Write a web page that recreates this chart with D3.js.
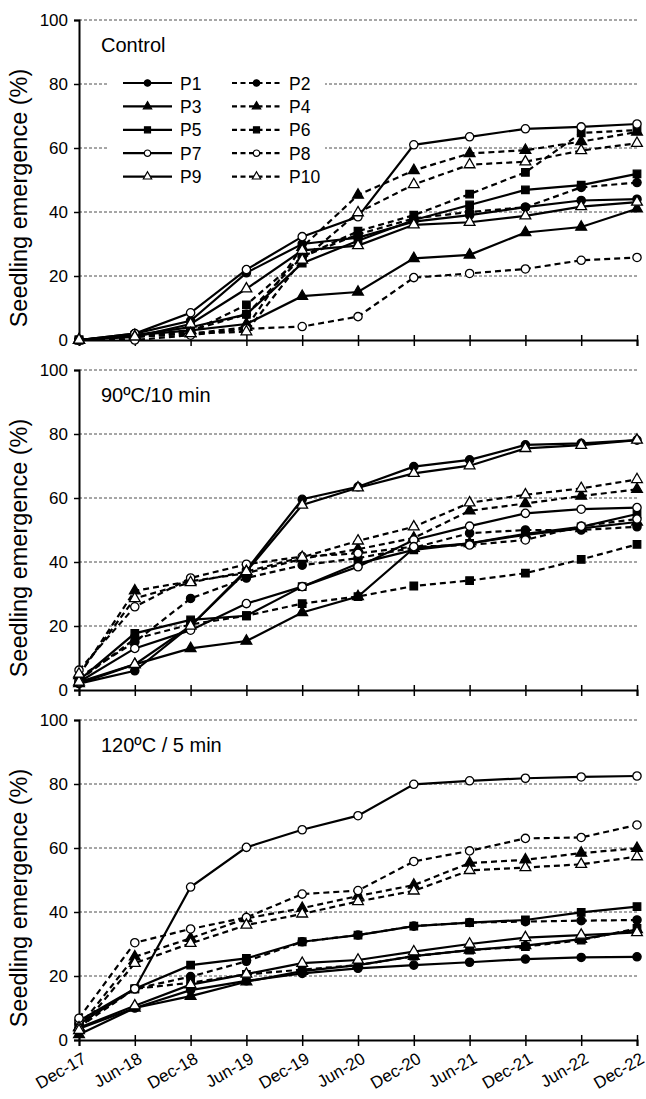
<!DOCTYPE html>
<html><head><meta charset="utf-8">
<script src="https://cdn.jsdelivr.net/npm/d3@7"></script>
<style>
body{margin:0;background:#fff}
svg{display:block}
text{font-family:"Liberation Sans",Arial,Helvetica,sans-serif;fill:#000}
</style>
</head><body>
<svg id="chart" width="646" height="1099"></svg>
<script>
// ---------- data ----------
const dates = ["Dec-17","Jun-18","Dec-18","Jun-19","Dec-19","Jun-20","Dec-20","Jun-21","Dec-21","Jun-22","Dec-22"];
const seriesNames = ["P1","P2","P3","P4","P5","P6","P7","P8","P9","P10"];
const panelTitles = ["Control","90ºC/10 min","120ºC / 5 min"];
const yTicks = [0,20,40,60,80,100];

const controlValues = [
  [0, 2, 6, 21, 30, 32, 37, 39, 41.5, 43.6, 44],
  [0, 1.5, 3, 8, 26, 33, 38, 40, 41.5, 47.7, 49.2],
  [0, 1.5, 3, 5, 13.7, 15, 25.5, 26.6, 33.6, 35.3, 41],
  [0, 1, 2, 4, 29, 45.3, 53, 58.3, 59.3, 62, 65],
  [0, 1.5, 4, 8, 24, 31, 37.5, 42.2, 46.9, 48.4, 51.9],
  [0, 1, 2.5, 11, 26, 34, 39, 45.6, 52.4, 64.7, 65.6],
  [0, 2, 8.5, 22, 32.3, 38.5, 61, 63.5, 66, 66.6, 67.5],
  [0, 0, 1.5, 3.5, 4.2, 7.3, 19.5, 20.8, 22.2, 24.9, 25.8],
  [0, 1, 5, 16, 28, 29.5, 36, 36.8, 38.8, 41.7, 43.1],
  [0, 1, 2, 2.6, 25, 39.8, 48.6, 54.8, 55.7, 59.2, 61.5]
];
const heat90Values = [
  [2, 6, 20, 37.5, 59.6, 63.5, 69.8, 71.9, 76.6, 77.1, 78.1],
  [4, 15, 28.6, 35, 39, 41.2, 44.5, 49, 50, 50, 51],
  [2, 8, 13, 15.3, 24.2, 29.2, 44.3, 45.8, 48.5, 50.5, 52.5],
  [4.5, 31, 34, 36.5, 41, 44, 47.5, 56, 58.3, 60.6, 62.7],
  [3, 17.7, 21.9, 23.2, 32.3, 39.5, 43.8, 45.8, 48.8, 51, 55],
  [3, 16, 20.5, 23.2, 27, 29.2, 32.5, 34.2, 36.5, 40.8, 45.5],
  [2.5, 13, 18.7, 27, 32.3, 38.5, 46.9, 51.2, 55.2, 56.5, 57],
  [6.2, 26, 35, 39.3, 41.7, 42.7, 44.8, 45.3, 46.9, 51.2, 53.4],
  [2.5, 8, 20, 37, 57.8, 63.2, 67.7, 70.1, 75.5, 76.5, 78.1],
  [5, 28.6, 33.6, 37, 41.5, 46.6, 51, 58.5, 61, 63, 65.8]
];
const heat120Values = [
  [3.5, 10, 15.6, 18.5, 20.8, 22.4, 23.4, 24.3, 25.3, 25.8, 26],
  [5, 16, 19.8, 24.6, 30.7, 32.8, 35.6, 36.7, 37, 37.3, 37.5],
  [1.7, 10, 13.7, 18.2, 21.5, 23.4, 26.2, 28.1, 29.5, 31.5, 34.5],
  [4, 26, 31.8, 38, 41.2, 45, 48.4, 55.3, 56.3, 58.4, 59.9],
  [5, 16, 23.4, 25.5, 30.7, 32.8, 35.6, 36.7, 37.5, 39.9, 41.7],
  [4, 16, 17.9, 20.5, 22, 23.4, 26.2, 28.1, 29.2, 31.2, 34.9],
  [6, 16, 47.8, 60.2, 65.7, 70.1, 79.9, 81, 81.8, 82.2, 82.5],
  [6.8, 30.4, 34.7, 38.3, 45.6, 46.7, 55.8, 59.1, 63, 63.3, 67.2],
  [3.8, 10.7, 17.3, 20.6, 24, 25, 27.6, 30, 32, 32.8, 33.6],
  [3, 24, 30.2, 35.9, 39.4, 43.3, 46.6, 53, 53.9, 54.9, 57.3]
];
const panelData = [controlValues, heat90Values, heat120Values];

// ---------- styles ----------
const shapes = ["circle","circle","triangle","triangle","square","square","circle","circle","triangle","triangle"];
const isFilled = i => i < 6;
const isDashed = i => i % 2 === 1;

const svg = d3.select("#chart");
const left = 79, right = 637;
const panels = [{top:20,bottom:340},{top:370,bottom:690},{top:720,bottom:1040}];
const x = d3.scalePoint().domain(dates).range([left, right]);

function symbolFor(i, big){
  const s = shapes[i];
  const type = s === "circle" ? d3.symbolCircle : s === "square" ? d3.symbolSquare : d3.symbolTriangle;
  const size = s === "circle" ? (big ? 54 : 32) : s === "square" ? (big ? 56 : 36) : (big ? 50 : 30);
  return d3.symbol().type(type).size(size)();
}

panels.forEach((p, pi) => {
  const y = d3.scaleLinear().domain([0,100]).range([p.bottom, p.top]);
  const g = svg.append("g");

  // gridlines
  g.selectAll(".grid").data(yTicks.filter(t => t > 0)).join("line")
    .attr("x1", left).attr("x2", right)
    .attr("y1", d => y(d)).attr("y2", d => y(d))
    .attr("stroke", "#222").attr("stroke-width", 0.8).attr("stroke-dasharray", "3,2");

  // left axis
  const ya = g.append("g").attr("transform", `translate(${left},0)`)
    .call(d3.axisLeft(y).tickValues(yTicks).tickSizeOuter(0).tickSize(5).tickPadding(6));
  ya.select(".domain").attr("stroke","#000").attr("stroke-width",2);
  ya.selectAll(".tick line").attr("stroke","#000").attr("stroke-width",1.5);
  ya.selectAll(".tick text").attr("font-size",17).attr("font-family",'"Liberation Sans",Arial,sans-serif').attr("fill","#000");

  // bottom axis
  const xa = g.append("g").attr("transform", `translate(0,${p.bottom})`)
    .call(d3.axisBottom(x).tickSizeOuter(0).tickSize(6).tickFormat(pi === 2 ? (d => d) : () => ""));
  xa.select(".domain").attr("stroke","#000").attr("stroke-width",2);
  xa.selectAll(".tick line").attr("stroke","#000").attr("stroke-width",1.5).attr("y1",-5).attr("y2",6);
  if (pi === 2) {
    xa.selectAll(".tick text")
      .attr("font-size",17).attr("font-family",'"Liberation Sans",Arial,sans-serif').attr("fill","#000")
      .attr("text-anchor","end")
      .attr("transform","translate(8,22) rotate(-30)")
      .attr("x",0).attr("y",0).attr("dy",0);
  } else {
    xa.selectAll(".tick text").remove();
  }

  // y label
  g.append("text")
    .attr("transform", `translate(27,${(p.top+p.bottom)/2 + 18}) rotate(-90)`)
    .attr("text-anchor","middle").attr("font-size",23.5)
    .text("Seedling emergence (%)");

  // title
  g.append("text").attr("x",101).attr("y",p.top + 32).attr("font-size",20).text(panelTitles[pi]);

  // series
  const data = panelData[pi];
  const line = d3.line().x((d,j) => x(dates[j])).y(d => y(d));
  data.forEach((vals, i) => {
    g.append("path").datum(vals).attr("d", line)
      .attr("fill","none").attr("stroke","#000").attr("stroke-width",2.2)
      .attr("stroke-dasharray", isDashed(i) ? "6,4" : null);
  });
  data.forEach((vals, i) => {
    g.selectAll(null).data(vals).join("path")
      .attr("d", symbolFor(i, true))
      .attr("transform", (d,j) => `translate(${x(dates[j])},${y(d)})`)
      .attr("fill", isFilled(i) ? "#000" : "#fff")
      .attr("stroke","#000").attr("stroke-width",1.3);
  });

  // legend in first panel
  if (pi === 0) {
    const lg = g.append("g");
    lg.append("rect").attr("x",107).attr("y",68).attr("width",218).attr("height",122).attr("fill","#fff");
    seriesNames.forEach((name, i) => {
      const col = i % 2, row = Math.floor(i / 2);
      const lx = col === 0 ? 123 : 232;
      const ly = 83 + row * 23.4;
      lg.append("line").attr("x1",lx).attr("x2",lx+49).attr("y1",ly).attr("y2",ly)
        .attr("stroke","#000").attr("stroke-width",2.2)
        .attr("stroke-dasharray", isDashed(i) ? "5,3.5" : null);
      lg.append("path").attr("d", symbolFor(i, false))
        .attr("transform", `translate(${lx+24.5},${ly})`)
        .attr("fill", isFilled(i) ? "#000" : "#fff")
        .attr("stroke","#000").attr("stroke-width",1.2);
      lg.append("text").attr("x", lx + 57).attr("y", ly + 6.5).attr("font-size",17.5).text(name);
    });
  }
});
</script>
</body></html>
